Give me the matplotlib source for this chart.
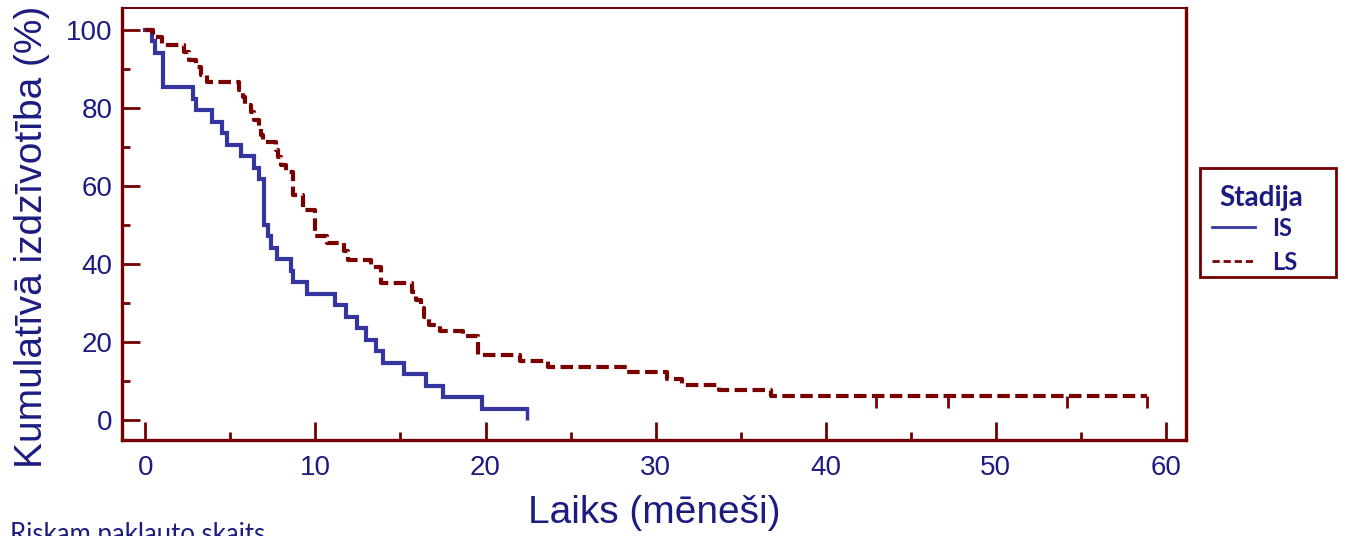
import matplotlib
matplotlib.use("Agg")
import matplotlib.pyplot as plt
from matplotlib.lines import Line2D
from matplotlib.patches import Rectangle
from matplotlib.ticker import MultipleLocator

# Kaplan-Meier survival, months vs cumulative survival (%)
is_times = [0, 0.39, 0.59, 1.06, 2.82, 2.98, 3.94, 4.53, 4.82, 5.59, 6.37, 6.66,
            6.96, 7.18, 7.39, 7.75, 8.57, 8.66, 9.51, 11.16, 11.81, 12.45, 12.98,
            13.57, 13.96, 15.19, 16.51, 17.49, 19.78]
is_surv = [100, 97.06, 94.12, 85.29, 82.35, 79.41, 76.47, 73.53, 70.59, 67.65,
           64.71, 61.76, 50.00, 47.06, 44.12, 41.18, 38.24, 35.29, 32.35, 29.41,
           26.47, 23.53, 20.59, 17.65, 14.71, 11.76, 8.82, 5.88, 2.94]
is_censored = [22.43]

ls_times = [0, 0.47, 1.0, 2.29, 2.59, 3.0, 3.29, 3.59, 5.53, 5.71, 5.88, 6.18,
            6.41, 6.65, 6.82, 6.94, 7.65, 7.82, 8.0, 8.29, 8.65, 9.29, 10.0,
            10.65, 11.65, 11.94, 13.24, 13.88, 15.7, 15.94, 16.18, 16.41, 16.7,
            17.35, 18.65, 19.53, 22.0, 23.65, 28.3, 30.65, 31.53, 33.76, 36.82]
ls_surv = [100, 98.08, 96.15, 94.23, 92.31, 90.38, 88.46, 86.54, 84.62, 82.69,
           80.77, 78.85, 76.92, 75.0, 73.08, 71.15, 69.23, 67.31, 65.38, 63.46,
           57.69, 53.85, 47.1, 45.3, 43.2, 40.9, 39.1, 35.0, 32.9, 30.8, 28.6,
           26.4, 24.3, 22.8, 21.4, 16.7, 15.1, 13.7, 12.3, 10.5, 9.0, 7.6, 6.1]
ls_censored = [42.98, 47.19, 54.2, 58.92]

groups = ["IS", "LS"]
x_ticks = [0, 10, 20, 30, 40, 50, 60]
y_ticks = [0, 20, 40, 60, 80, 100]

frame_col = "#720000"
text_col = "#1c1c80"
is_col = "#3535a0"
ls_col = "#7a0000"
sans = ["Liberation Sans", "DejaVu Sans"]

W, H = 1346, 536
fig = plt.figure(figsize=(W / 100, H / 100), dpi=100)
ax = fig.add_axes([122 / W, 96 / H, 1064 / W, 432 / H])

# survival steps
ax.step(is_times + [is_censored[-1]], is_surv + [is_surv[-1]], where="post",
        color=is_col, lw=3.0, solid_joinstyle="miter")
ax.step(ls_times + [ls_censored[-1]], ls_surv + [ls_surv[-1]], where="post",
        color=ls_col, lw=3.0, linestyle=(0, (3.0, 1.3)))

# censor marks hang below the curve
ax.vlines(is_censored, is_surv[-1] - 2.9, is_surv[-1], color=is_col, lw=2.5)
ax.vlines(ls_censored, ls_surv[-1] - 2.9, ls_surv[-1], color=ls_col, lw=2.0)

ax.set_xlim(-1.38, 61.2)
ax.set_ylim(-5.13, 105.6)
ax.set_xticks(x_ticks)
ax.set_yticks(y_ticks)
ax.xaxis.set_minor_locator(MultipleLocator(5))
ax.yaxis.set_minor_locator(MultipleLocator(10))
ax.tick_params(which="both", direction="in", color=frame_col, width=2.0)
ax.tick_params(which="major", length=13)
ax.tick_params(which="minor", length=6)
ax.tick_params(axis="x", which="major", pad=11)
ax.tick_params(axis="y", which="major", pad=7)

for lab in ax.get_xticklabels() + ax.get_yticklabels():
    lab.set_family(sans)
    lab.set_fontsize(20)
    lab.set_color(text_col)

for side, sp in ax.spines.items():
    sp.set_color(frame_col)
    sp.set_linewidth(1.4 if side == "top" else 2.4)

ax.set_xlabel("Laiks (mēneši)", family=sans, fontsize=28, color=text_col,
              labelpad=10)
ax.set_ylabel("Kumulatīvā izdzīvotība (%)", family=sans, fontsize=28,
              color=text_col)
ax.yaxis.set_label_coords(-0.068, 0.47)

# legend, laid out by hand to the right of the plot (pixel positions)
def fx(px):
    return px / W


def fy(py):
    return 1 - py / H


fig.patches.append(Rectangle((fx(1200), fy(277)), 136 / W, 109 / H,
                             transform=fig.transFigure, fill=False,
                             edgecolor=frame_col, lw=2.0))
fig.text(fx(1261), fy(198), "Stadija", family="Lato", weight="bold",
         fontsize=20, color=text_col, ha="center", va="center")
key_styles = [dict(color=is_col, lw=2.0),
              dict(color=ls_col, lw=2.0, linestyle=(0, (2.6, 1.4)))]
for row_y, name, style in zip([227, 261], groups, key_styles):
    fig.add_artist(Line2D([fx(1212), fx(1255)], [fy(row_y), fy(row_y)],
                          transform=fig.transFigure, **style))
    fig.text(fx(1272), fy(row_y + 1), name, family="Lato", weight="bold",
             fontsize=17, color=text_col, ha="left", va="center")

fig.text(10 / W, 1 - 522 / H, "Riskam paklauto skaits", family="Lato",
         fontsize=18.5, color=text_col, va="top", ha="left")

fig.savefig("out.png", dpi=100)
